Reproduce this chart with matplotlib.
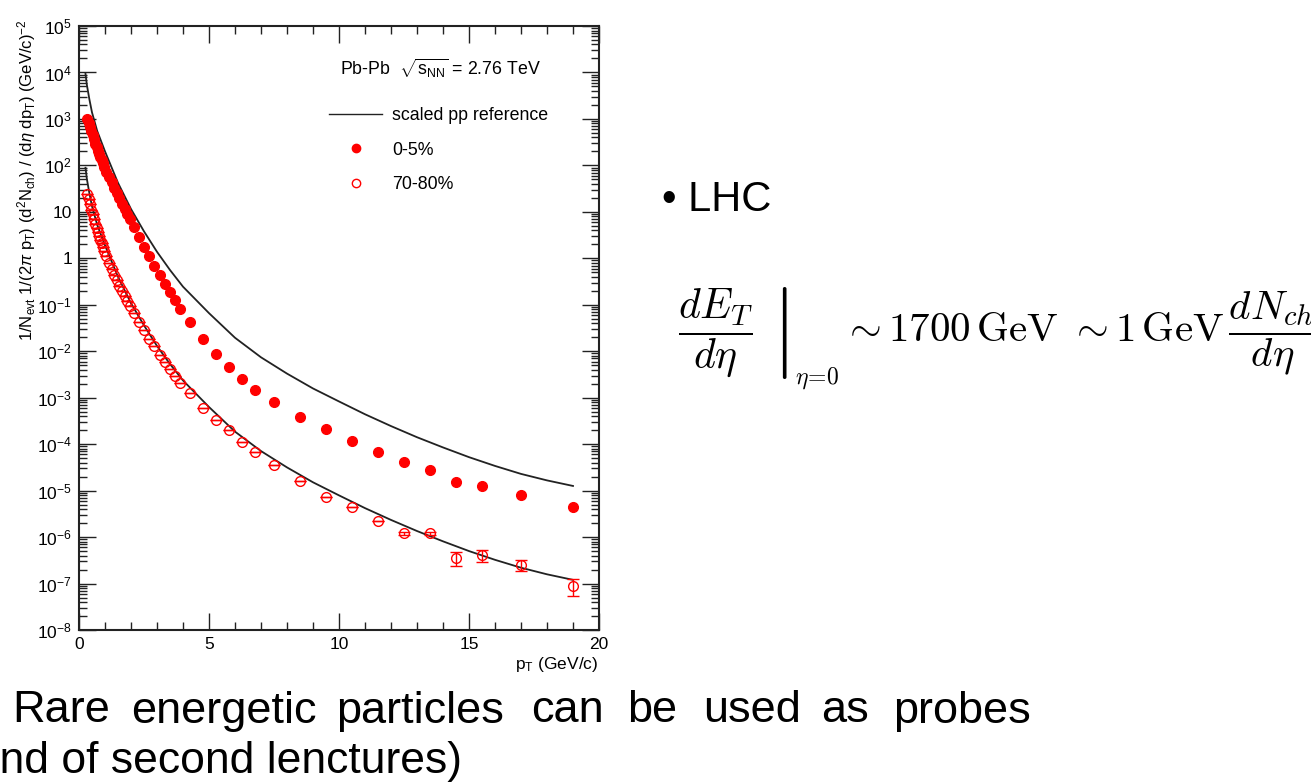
import matplotlib
matplotlib.use("Agg")
import matplotlib.pyplot as plt
from matplotlib.lines import Line2D
from matplotlib.ticker import FixedLocator, FixedFormatter, NullFormatter

plt.rcParams["font.family"] = ["Liberation Sans", "DejaVu Sans"]
plt.rcParams["mathtext.fontset"] = "custom"
plt.rcParams["mathtext.rm"] = "Liberation Sans"
plt.rcParams["mathtext.it"] = "Liberation Sans:italic"

W, H = 1311, 784

# pT bin centres (GeV/c), shared by both centrality classes
pt = [0.325, 0.375, 0.425, 0.475, 0.525, 0.575, 0.625, 0.675, 0.725, 0.775,
      0.825, 0.875, 0.925, 0.975, 1.05, 1.15, 1.25, 1.35, 1.45, 1.55,
      1.65, 1.75, 1.85, 1.95, 2.1, 2.3, 2.5, 2.7, 2.9, 3.1,
      3.3, 3.5, 3.7, 3.9, 4.25, 4.75, 5.25, 5.75, 6.25, 6.75,
      7.5, 8.5, 9.5, 10.5, 11.5, 12.5, 13.5, 14.5, 15.5, 17.0, 19.0]

# 0-5% central
yield_0_5 = [1000, 832, 676, 550, 447, 363, 295, 245, 209, 178,
             151, 129, 110, 93, 72, 55, 43, 32, 25, 19.5,
             15.1, 11.7, 9.1, 7.1, 4.72, 2.83, 1.78, 1.10, 0.693, 0.444,
             0.284, 0.191, 0.125, 0.081, 0.0426, 0.0183, 0.0086, 0.00451, 0.00252, 0.00146,
             8.2e-4, 3.84e-4, 2.08e-4, 1.15e-4, 6.9e-5, 4.06e-5, 2.82e-5, 1.56e-5, 1.26e-5, 8.0e-6, 4.4e-6]

# 70-80% peripheral
yield_70_80 = [24, 18.6, 14.5, 11.2, 8.9, 7.1, 5.6, 4.57, 3.72, 3.02,
               2.51, 2.09, 1.74, 1.45, 1.12, 0.81, 0.60, 0.447, 0.339, 0.257,
               0.20, 0.155, 0.120, 0.093, 0.0675, 0.0432, 0.0282, 0.0183, 0.0128, 0.0083,
               0.00586, 0.00408, 0.00293, 0.0021, 0.00128, 6.1e-4, 3.36e-4, 1.99e-4, 1.11e-4, 6.8e-5,
               3.5e-5, 1.61e-5, 7.4e-6, 4.43e-6, 2.22e-6, 1.2e-6, 1.2e-6, 3.6e-7, 4.05e-7, 2.5e-7, 9.0e-8]

# visible stat. errors of the 70-80% points (last eight bins)
err_70_80 = [0.0] * 43 + [0.0, 0.0, 0.1e-6, 0.1e-6, 1.2e-7, 1.2e-7, 0.65e-7, 3.6e-8]

# scaled pp references
ref_pt = [0.25, 0.3, 0.4, 0.5, 0.7, 1.0, 1.5, 2.0, 2.5, 3.0, 3.5, 4.0, 5.0, 6.0,
          7.0, 8.0, 9.0, 10.0, 11.0, 12.0, 13.0, 14.0, 15.0, 16.0, 17.0, 18.0, 19.0]
ref_0_5 = [9300, 5500, 2630, 1380, 550, 200, 42, 11.5, 3.8, 1.38, 0.56, 0.245, 0.066, 0.0195,
           7.4e-3, 3.3e-3, 1.58e-3, 8.3e-4, 4.4e-4, 2.45e-4, 1.41e-4, 8.5e-5, 5.25e-5, 3.4e-5,
           2.29e-5, 1.66e-5, 1.26e-5]
ref_70_80 = [89, 52, 25, 13.2, 5.25, 1.9, 0.40, 0.108, 0.0360, 0.0130, 5.3e-3, 2.35e-3, 6.3e-4, 1.86e-4,
             7.1e-5, 3.16e-5, 1.51e-5, 7.9e-6, 4.2e-6, 2.34e-6, 1.35e-6, 8.1e-7, 5.0e-7, 3.24e-7,
             2.19e-7, 1.58e-7, 1.2e-7]

y_decades = list(range(-8, 6))
y_labels = ["10$^{%d}$" % d if d not in (0, 1) else ("1" if d == 0 else "10") for d in y_decades]


def fx(x):
    return x / W


def fy(y):
    return 1 - y / H


fig = plt.figure(figsize=(W / 100, H / 100), dpi=100)
ax = fig.add_axes([fx(79), fy(630), fx(599) - fx(79), fy(26) - fy(630)])

ax.plot(ref_pt, ref_0_5, color="#222222", lw=1.3)
ax.plot(ref_pt, ref_70_80, color="#222222", lw=1.3)
ax.plot(pt, yield_0_5, "o", color="#ff0000", ms=7, mec="#ff0000")
ax.errorbar(pt, yield_70_80, yerr=err_70_80, fmt="o", ms=7, mfc="none", mec="#ff0000",
            mew=1.0, ecolor="#ff0000", elinewidth=1.0, capsize=4, capthick=1.0)

ax.set_yscale("log")
ax.set_xlim(0, 20)
ax.set_ylim(1e-8, 1e5)

ax.xaxis.set_major_locator(FixedLocator([0, 5, 10, 15, 20]))
ax.xaxis.set_minor_locator(FixedLocator(list(range(0, 21))))
ax.yaxis.set_major_locator(FixedLocator([10.0 ** d for d in y_decades]))
ax.yaxis.set_major_formatter(FixedFormatter(y_labels))
ax.yaxis.set_minor_locator(FixedLocator([m * 10.0 ** d for d in y_decades[:-1] for m in range(2, 10)]))
ax.yaxis.set_minor_formatter(NullFormatter())

ax.tick_params(which="both", direction="in", top=True, right=True, width=1.0, color="#222222")
ax.tick_params(which="major", length=12, labelsize=12.5, pad=5)
ax.tick_params(which="minor", length=6)
for s in ax.spines.values():
    s.set_linewidth(1.5)
    s.set_color("#222222")

fig.text(fx(27), fy(20),
         r"1/N$_{\mathrm{evt}}$ 1/(2$\pi$ p$_{\mathrm{T}}$) (d$^{2}$N$_{\mathrm{ch}}$) / (d$\eta$ dp$_{\mathrm{T}}$) (GeV/c)$^{-2}$",
         rotation=90, ha="center", va="top", fontsize=12)
fig.text(fx(598), fy(665), r"p$_{\mathrm{T}}$ (GeV/c)", ha="right", va="center", fontsize=12.5)

fig.text(fx(340), fy(68), r"Pb-Pb  $\sqrt{\mathrm{s}_{\mathrm{NN}}}$ = 2.76 TeV", ha="left", va="center", fontsize=12.8)

handles = [Line2D([], [], color="#222222", lw=1.0),
           Line2D([], [], ls="none", marker="o", ms=6, color="#ff0000"),
           Line2D([], [], ls="none", marker="o", ms=6, mfc="none", mec="#ff0000", mew=1.0)]
ax.legend(handles, ["scaled pp reference", "0-5%", "70-80%"], loc="upper left",
          bbox_to_anchor=((320 - 79) / 520, 1 - (98 - 26) / 604), frameon=False,
          fontsize=12.8, handlelength=3.0, handletextpad=0.55, labelspacing=1.0, borderpad=0)

# slide text
fig.text(fx(662), fy(200), "• LHC", ha="left", va="center", fontsize=30)
fig.text(fx(678), fy(333), r"$\left.\dfrac{dE_T}{d\eta}\;\,\right|$",
         ha="left", va="center", fontsize=30, math_fontfamily="cm")
fig.text(fx(795), fy(378), r"$\eta\!=\!0$", ha="left", va="center", fontsize=17, math_fontfamily="cm")
fig.text(fx(842), fy(333),
         r"$\sim 1700\,\mathrm{GeV}\ \sim 1\,\mathrm{GeV}\,\dfrac{dN_{ch}}{d\eta}$",
         ha="left", va="center", fontsize=29.5, math_fontfamily="cm")

words = ["Rare", "energetic", "particles", "can", "be", "used", "as", "probes"]
word_x = [12, 131, 336, 531, 627, 703, 821, 893]
for w, x in zip(words, word_x):
    fig.text(fx(x), fy(711), w, ha="left", va="center", fontsize=32.5)
fig.text(fx(462), fy(762), "(end of second lenctures)", ha="right", va="center", fontsize=32)

fig.savefig("out.png", dpi=100)
